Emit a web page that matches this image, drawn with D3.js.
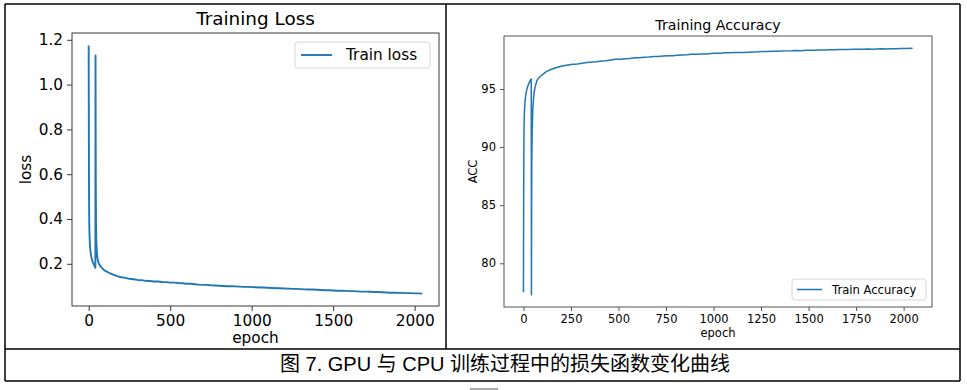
<!DOCTYPE html>
<html>
<head>
<meta charset="utf-8">
<script src="https://cdn.jsdelivr.net/npm/d3@7"></script>
<style>
  body { margin: 0; background: #fff; }
  svg { display: block; }
  .mpl text { font-family: "DejaVu Sans", sans-serif; fill: #000; }
</style>
</head>
<body>
<svg id="chart" width="967" height="390"></svg>
<script>
// ---- data ----
let lossEpochs = [0, 1, 2, 3, 4, 6, 9, 13, 18, 24, 30, 36, 41, 42, 43, 44, 45, 47, 50, 54, 60, 68, 78, 90, 105, 125, 150, 175, 200,
  225, 250, 275, 300, 325, 350, 375, 400, 425, 450, 475, 500, 525, 550, 575, 600, 625, 650, 675, 700, 725, 750, 775, 800,
  825, 850, 875, 900, 925, 950, 975, 1000, 1025, 1050, 1075, 1100, 1125, 1150, 1175, 1200, 1225, 1250, 1275, 1300, 1325,
  1350, 1375, 1400, 1425, 1450, 1475, 1500, 1525, 1550, 1575, 1600, 1625, 1650, 1675, 1700, 1725, 1750, 1775, 1800, 1825,
  1850, 1875, 1900, 1925, 1950, 1975, 2000, 2025, 2047];
let lossValues = [1.175, 0.80, 0.55, 0.42, 0.36, 0.31, 0.27, 0.245, 0.225, 0.21, 0.200, 0.191, 0.182, 1.130, 0.75, 0.50, 0.38, 0.30, 0.255, 0.225, 0.205, 0.193, 0.184, 0.175, 0.167, 0.160, 0.152, 0.145, 0.140,
  0.137, 0.133, 0.131, 0.128, 0.127, 0.124, 0.123, 0.121, 0.121, 0.119, 0.118, 0.116, 0.116, 0.114, 0.113, 0.111, 0.111, 0.109, 0.107, 0.106,
  0.106, 0.104, 0.103, 0.102, 0.101, 0.100, 0.100, 0.099, 0.098, 0.097, 0.097, 0.096, 0.095, 0.094, 0.094, 0.093, 0.092, 0.091, 0.091, 0.090,
  0.089, 0.088, 0.088, 0.087, 0.086, 0.085, 0.085, 0.084, 0.083, 0.082, 0.082, 0.081, 0.080, 0.080, 0.079, 0.078, 0.078, 0.077, 0.076, 0.076,
  0.075, 0.074, 0.074, 0.073, 0.072, 0.071, 0.071, 0.070, 0.070, 0.069, 0.069, 0.068, 0.068, 0.067];

let accEpochs = [0, 1, 2, 3, 5, 8, 12, 18, 25, 32, 38, 41, 42, 43, 44, 46, 49, 53, 58, 65, 72, 80, 97, 120, 140, 166, 190, 210, 235, 260,
  285, 307, 335, 360, 385, 410, 435, 460, 483, 510, 535, 560, 585, 610, 635, 660, 685, 710, 735, 760, 785, 810, 834, 860,
  885, 910, 935, 960, 985, 1010, 1035, 1060, 1085, 1110, 1135, 1160, 1185, 1210, 1235, 1260, 1285, 1310, 1335, 1360, 1385,
  1410, 1435, 1460, 1485, 1510, 1536, 1560, 1585, 1610, 1635, 1660, 1685, 1710, 1735, 1760, 1785, 1810, 1835, 1860, 1887,
  1910, 1935, 1960, 1985, 2010, 2047];
let accValues = [77.5, 85.0, 89.5, 91.8, 93.0, 93.9, 94.5, 95.0, 95.35, 95.6, 95.8, 95.85, 77.3, 85.0, 89.0, 91.5, 93.2, 94.2, 94.9, 95.4, 95.75, 95.95, 96.2, 96.5, 96.65, 96.8, 96.92, 97.0, 97.06, 97.12,
  97.16, 97.22, 97.27, 97.32, 97.34, 97.41, 97.43, 97.50, 97.55, 97.56, 97.61, 97.63, 97.68, 97.68, 97.74, 97.75, 97.79, 97.80, 97.83, 97.86, 97.86, 97.91, 97.93, 97.95,
  97.98, 97.99, 98.02, 98.02, 98.05, 98.07, 98.08, 98.11, 98.11, 98.14, 98.15, 98.15, 98.17, 98.19, 98.20, 98.22, 98.22, 98.25, 98.25, 98.27, 98.28,
  98.29, 98.31, 98.30, 98.33, 98.33, 98.34, 98.36, 98.35, 98.38, 98.37, 98.39, 98.40, 98.40, 98.42, 98.41, 98.43, 98.44, 98.43, 98.45, 98.46,
  98.45, 98.47, 98.47, 98.48, 98.49, 98.50];

let lossXTicks = [0, 500, 1000, 1500, 2000],
    lossYTicks = [0.2, 0.4, 0.6, 0.8, 1.0, 1.2],
    accXTicks = [0, 250, 500, 750, 1000, 1250, 1500, 1750, 2000],
    accYTicks = [80, 85, 90, 95];

let caption = "图 7. GPU 与 CPU 训练过程中的损失函数变化曲线";
let lineColor = "#1f77b4";

let svg = d3.select("#chart");
svg.append("rect").attr("width", 967).attr("height", 390).attr("fill", "#fff");

// matplotlib style auto limits: 5% margin on each side
function padded(values) {
  let ext = d3.extent(values), m = (ext[1] - ext[0]) * 0.05;
  return [ext[0] - m, ext[1] + m];
}

function drawPanel(opt) {
  let g = svg.append("g").attr("class", "mpl");
  let x = d3.scaleLinear().domain(padded(opt.xs)).range([opt.left, opt.right]),
      y = d3.scaleLinear().domain(padded(opt.ys)).range([opt.bottom, opt.top]);

  let data = opt.xs.map(function(d, i) { return {e: d, v: opt.ys[i]}; });

  let line = d3.line()
    .x(function(d) { return x(d.e); })
    .y(function(d) { return y(d.v); });

  g.append("path")
    .datum(data)
    .attr("fill", "none")
    .attr("stroke", lineColor)
    .attr("stroke-width", opt.lw)
    .attr("stroke-linejoin", "round")
    .attr("d", line);

  // Add axes
  let xAxis = d3.axisBottom(x).tickValues(opt.xTicks).tickFormat(d3.format("d"))
        .tickSize(opt.tick).tickPadding(opt.pad).tickSizeOuter(0),
      yAxis = d3.axisLeft(y).tickValues(opt.yTicks).tickFormat(opt.yFormat)
        .tickSize(opt.tick).tickPadding(opt.pad).tickSizeOuter(0);

  let gx = g.append("g").attr("transform", "translate(0," + opt.bottom + ")").call(xAxis);
  let gy = g.append("g").attr("transform", "translate(" + opt.left + ",0)").call(yAxis);
  [gx, gy].forEach(function(a) {
    a.select(".domain").remove();
    a.selectAll("line").attr("stroke", opt.spine);
    a.selectAll("text").style("font-size", opt.tickFont + "px").attr("fill", "#000");
  });

  // frame
  g.append("rect")
    .attr("x", opt.left).attr("y", opt.top)
    .attr("width", opt.right - opt.left).attr("height", opt.bottom - opt.top)
    .attr("fill", "none").attr("stroke", opt.spine).attr("stroke-width", 1);

  // title and labels
  g.append("text")
    .attr("x", (opt.left + opt.right) / 2).attr("y", opt.titleY)
    .attr("text-anchor", "middle").style("font-size", opt.titleFont + "px")
    .text(opt.title);
  g.append("text")
    .attr("x", (opt.left + opt.right) / 2).attr("y", opt.xLabelY)
    .attr("text-anchor", "middle").style("font-size", opt.tickFont + "px")
    .text("epoch");
  g.append("text")
    .attr("transform", "translate(" + opt.yLabelX + "," + ((opt.top + opt.bottom) / 2) + ") rotate(-90)")
    .attr("text-anchor", "middle").style("font-size", opt.tickFont + "px")
    .text(opt.yLabel);

  // legend
  let L = opt.legend;
  g.append("rect")
    .attr("x", L.x).attr("y", L.y).attr("width", L.w).attr("height", L.h)
    .attr("rx", 3).attr("fill", "#fff").attr("fill-opacity", 0.8)
    .attr("stroke", "#d6d6d6").attr("stroke-width", 1);
  g.append("line")
    .attr("x1", L.x + L.pad).attr("x2", L.x + L.pad + L.len)
    .attr("y1", L.y + L.h / 2).attr("y2", L.y + L.h / 2)
    .attr("stroke", lineColor).attr("stroke-width", opt.lw);
  g.append("text")
    .attr("x", L.x + L.pad + L.len + L.gap).attr("y", L.y + L.h / 2)
    .attr("dy", "0.35em").style("font-size", L.font + "px")
    .text(opt.legendText);
}

drawPanel({
  xs: lossEpochs, ys: lossValues, xTicks: lossXTicks, yTicks: lossYTicks,
  yFormat: d3.format(".1f"),
  left: 72, right: 439, top: 33, bottom: 306,
  tick: 5, pad: 4, tickFont: 15.3, titleFont: 18.4, lw: 1.9,
  spine: "#3a3a3a",
  title: "Training Loss", titleY: 25, xLabelY: 343, yLabel: "loss", yLabelX: 31,
  legendText: "Train loss",
  legend: {x: 295, y: 42, w: 135, h: 26, pad: 6, len: 31, gap: 14, font: 15.3}
});

drawPanel({
  xs: accEpochs, ys: accValues, xTicks: accXTicks, yTicks: accYTicks,
  yFormat: d3.format("d"),
  left: 504, right: 932, top: 36, bottom: 307,
  tick: 4, pad: 4, tickFont: 11.5, titleFont: 14.2, lw: 1.5,
  spine: "#555",
  title: "Training Accuracy", titleY: 30, xLabelY: 337, yLabel: "ACC", yLabelX: 477,
  legendText: "Train Accuracy",
  legend: {x: 792, y: 279, w: 134, h: 21, pad: 5, len: 25, gap: 10, font: 11.6}
});

// outer table borders
let borders = svg.append("g").attr("stroke", "#000").attr("stroke-width", 1.5);
[[5, 4, 960, 4], [5, 349, 960, 349], [5, 381, 960, 381],
 [5, 4, 5, 381], [960, 4, 960, 381], [446, 4, 446, 349]].forEach(function(s) {
  borders.append("line").attr("x1", s[0]).attr("y1", s[1]).attr("x2", s[2]).attr("y2", s[3]);
});

svg.append("text")
  .attr("x", 505).attr("y", 371)
  .attr("text-anchor", "middle")
  .style("font-family", "'Liberation Sans', 'Noto Sans CJK SC', sans-serif")
  .style("font-size", "20px")
  .text(caption);

svg.append("rect").attr("x", 470).attr("y", 388).attr("width", 28).attr("height", 2).attr("fill", "#aaa");
</script>
</body>
</html>
